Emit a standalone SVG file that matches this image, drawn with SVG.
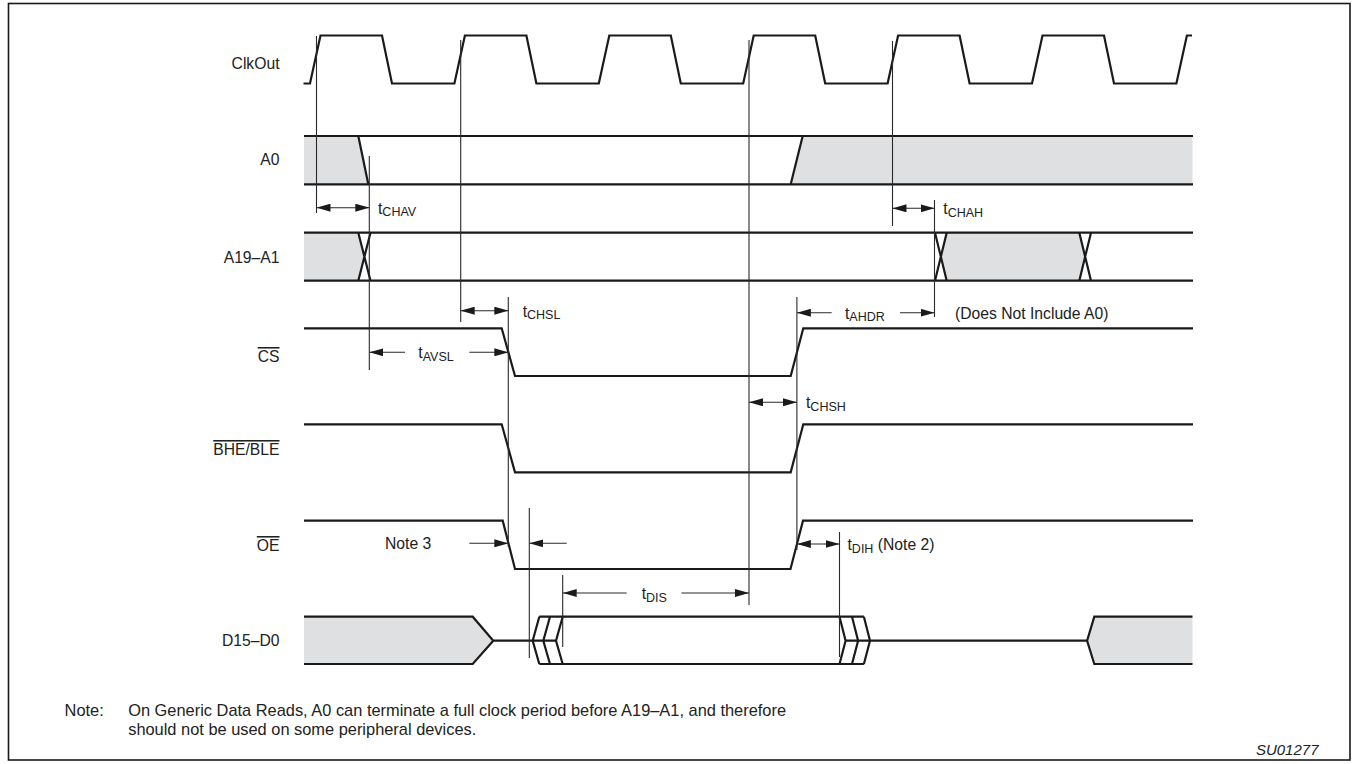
<svg xmlns="http://www.w3.org/2000/svg" width="1353" height="764" viewBox="0 0 1353 764">
<defs>
<style>
.sig{fill:none;stroke:#1a1a1a;stroke-width:2.2;stroke-linejoin:miter}
.fillg{fill:#dfe0e2;stroke:none}
.ref{fill:none;stroke:#2a2a2a;stroke-width:1.1}
.arr{fill:none;stroke:#2a2a2a;stroke-width:1.1}
.lbl{font-family:"Liberation Sans",Arial,sans-serif;font-size:15.7px;fill:#222}
.sub{font-size:12.5px}
.ov{text-decoration:overline}
.foot{font-size:16.4px}
</style>
<marker id="ah" markerUnits="userSpaceOnUse" markerWidth="14" markerHeight="8" refX="14" refY="4" orient="auto-start-reverse">
<path d="M0,0 L14,4 L0,8 z" fill="#1a1a1a"/>
</marker>
</defs>
<rect x="8.5" y="3.5" width="1341.5" height="756.5" fill="#fff" stroke="#1a1a1a" stroke-width="1.6"/>

<g id="clkout">
<text class="lbl" x="279.5" y="69" text-anchor="end">ClkOut</text>
<path class="sig" d="M303.5,83.5 H310 L320.5,35.5 H382 L392,83.5 H454.4 L464.9,35.5 H526.4 L536.4,83.5 H598.8 L609.3,35.5 H670.8 L680.8,83.5 H743.2 L753.7,35.5 H815.2 L825.2,83.5 H887.6 L898.1,35.5 H959.6 L969.6,83.5 H1032 L1042.5,35.5 H1104 L1114,83.5 H1176.4 L1186.9,35.5 H1192"/>
</g>

<g id="a0">
<text class="lbl" x="279.5" y="165" text-anchor="end">A0</text>
<polygon class="fillg" points="304,136 358.3,136 368.3,184.3 304,184.3"/>
<polygon class="fillg" points="790.7,184.3 802.7,136 1192.5,136 1192.5,184.3"/>
<path class="sig" d="M304,136 H1193 M304,184.3 H1193 M358.3,136 L368.3,184.3 M790.7,184.3 L802.7,136"/>
</g>

<g id="a19a1">
<text class="lbl" x="279.5" y="262.5" text-anchor="end">A19–A1</text>
<polygon class="fillg" points="304,232.7 358.3,232.7 364.4,256.7 358.3,280.7 304,280.7"/>
<polygon class="fillg" points="946.7,232.7 1079.3,232.7 1085.2,256.7 1079.3,280.7 946.7,280.7 940.85,256.7"/>
<path class="sig" d="M304,232.7 H1193 M304,280.7 H1193 M358.3,232.7 L370.5,280.7 M370.5,232.7 L358.3,280.7 M935,232.7 L946.7,280.7 M946.7,232.7 L935,280.7 M1079.3,232.7 L1091,280.7 M1091,232.7 L1079.3,280.7"/>
</g>

<g id="cs">
<text class="lbl ov" x="279.5" y="362" text-anchor="end">CS</text>
<path class="sig" d="M304,328.3 H501.7 L515,376 H790.7 L803.3,328.3 H1193"/>
</g>

<g id="bhe">
<text class="lbl ov" x="279.5" y="455" text-anchor="end">BHE/BLE</text>
<path class="sig" d="M304,424.3 H501.7 L515,472.3 H790.7 L803.3,424.3 H1193"/>
</g>

<g id="oe">
<text class="lbl ov" x="279.5" y="551" text-anchor="end">OE</text>
<path class="sig" d="M304,520.7 H502.7 L515,569 H790.5 L803,520.7 H1193"/>
</g>

<g id="d15d0">
<text class="lbl" x="279.5" y="646" text-anchor="end">D15–D0</text>
<polygon class="fillg" points="304,616.7 472.7,616.7 493.3,640.7 472.7,664 304,664"/>
<polygon class="fillg" points="1087.1,640.7 1094.3,616.7 1192.5,616.7 1192.5,664 1094.3,664"/>
<path class="sig" d="M304,616.7 H472.7 L493.3,640.7 L472.7,664 H304 M493.3,640.7 H556 M539.3,616.7 L532.7,640.7 L539.3,664 M550,616.7 L543.3,640.7 L550,664 M562.7,616.7 L556,640.7 L562.7,664 M539.3,616.7 H863.9 M539.3,664 H863.9 M839.5,616.7 L845.6,640.7 L839.5,664 M852,616.7 L858.1,640.7 L852,664 M863.9,616.7 L870,640.7 L863.9,664 M845.6,640.7 H1087.1 M1192.5,616.7 H1094.3 L1087.1,640.7 L1094.3,664 H1192.5"/>
</g>

<g id="connectors">
<path class="ref" d="M316.5,36 V213 M460.7,40 V322 M749,40 V605 M892.5,41 V226 M369.3,156 V370 M934.5,200 V317 M508.3,297 V547 M796.9,297 V550 M529.3,508 V658 M562.7,575 V647 M839.5,532 V657"/>
<line class="arr" x1="316.5" y1="207.7" x2="369.3" y2="207.7" marker-start="url(#ah)" marker-end="url(#ah)"/>
<line class="arr" x1="892.5" y1="208.3" x2="934.5" y2="208.3" marker-start="url(#ah)" marker-end="url(#ah)"/>
<line class="arr" x1="460.7" y1="310.7" x2="508.3" y2="310.7" marker-start="url(#ah)" marker-end="url(#ah)"/>
<line class="arr" x1="749" y1="402.3" x2="796.9" y2="402.3" marker-start="url(#ah)" marker-end="url(#ah)"/>
<line class="arr" x1="796.9" y1="544" x2="839.5" y2="544" marker-start="url(#ah)" marker-end="url(#ah)"/>
<line class="arr" x1="405" y1="352.3" x2="369.3" y2="352.3" marker-end="url(#ah)"/>
<line class="arr" x1="469.3" y1="352.3" x2="508.3" y2="352.3" marker-end="url(#ah)"/>
<line class="arr" x1="831.7" y1="312.7" x2="796.9" y2="312.7" marker-end="url(#ah)"/>
<line class="arr" x1="900" y1="312.7" x2="934.5" y2="312.7" marker-end="url(#ah)"/>
<line class="arr" x1="469.3" y1="543.3" x2="508.3" y2="543.3" marker-end="url(#ah)"/>
<line class="arr" x1="566.7" y1="543.3" x2="529.3" y2="543.3" marker-end="url(#ah)"/>
<line class="arr" x1="626.7" y1="593" x2="562.7" y2="593" marker-end="url(#ah)"/>
<line class="arr" x1="681.4" y1="593" x2="749" y2="593" marker-end="url(#ah)"/>
</g>

<g id="timing-labels">
<text class="lbl" x="378" y="213.5">t<tspan class="sub" dy="2.5">CHAV</tspan></text>
<text class="lbl" x="943.3" y="214">t<tspan class="sub" dy="2.5">CHAH</tspan></text>
<text class="lbl" x="522.7" y="316.5">t<tspan class="sub" dy="2.5">CHSL</tspan></text>
<text class="lbl" x="418.3" y="358">t<tspan class="sub" dy="2.5">AVSL</tspan></text>
<text class="lbl" x="845" y="318.5">t<tspan class="sub" dy="2.5">AHDR</tspan></text>
<text class="lbl" x="955" y="318.5">(Does Not Include A0)</text>
<text class="lbl" x="806" y="408">t<tspan class="sub" dy="2.5">CHSH</tspan></text>
<text class="lbl" x="385" y="548.8">Note 3</text>
<text class="lbl" x="847.5" y="550">t<tspan class="sub" dy="2.5">DIH</tspan><tspan dy="-2.5"> (Note 2)</tspan></text>
<text class="lbl" x="641.7" y="599">t<tspan class="sub" dy="2.5">DIS</tspan></text>
</g>

<g id="footer">
<text class="lbl foot" x="64.6" y="716">Note:</text>
<text class="lbl foot" x="128.2" y="716">On Generic Data Reads, A0 can terminate a full clock period before A19–A1, and therefore</text>
<text class="lbl foot" x="128.2" y="735">should not be used on some peripheral devices.</text>
<text class="lbl" x="1318.5" y="754.5" text-anchor="end" style="font-size:15px;font-style:italic">SU01277</text>
</g>
</svg>
